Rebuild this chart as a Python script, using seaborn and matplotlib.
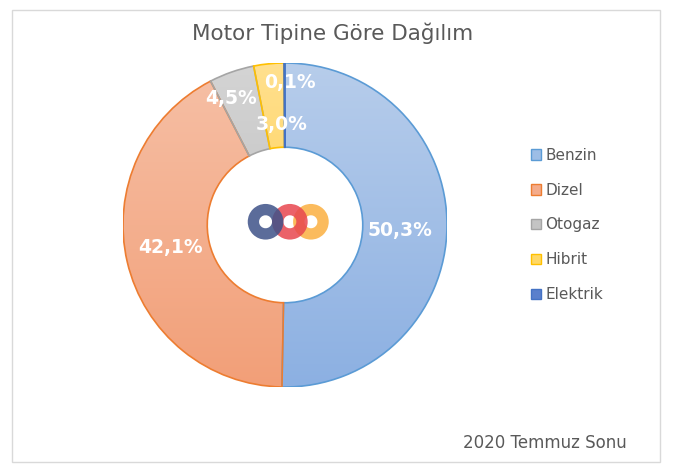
import matplotlib.pyplot as plt
import matplotlib.patches as mpatches
import numpy as np
import seaborn as sns

# data
categories = ["Benzin", "Dizel", "Otogaz", "Hibrit", "Elektrik"]
shares = [50.3, 42.1, 4.5, 3.0, 0.1]
labels = ["50,3%", "42,1%", "4,5%", "3,0%", "0,1%"]

light_colors = ["#b7cdeb", "#f6c0a6", "#d4d4d4", "#ffe08f", "#6f8fd0"]
dark_colors = ["#8cb0e2", "#f29f78", "#b8b8b8", "#ffc935", "#4472c4"]
edge_colors = ["#5b9bd5", "#ed7d31", "#a5a5a5", "#ffc000", "#4472c4"]
legend_colors = ["#9dbde6", "#f4ab8a", "#c4c4c4", "#ffd866", "#5a7fcc"]

sns.set_theme(style="white")
plt.rcParams["font.family"] = ["DejaVu Sans"]

W, H = 674, 472
fig = plt.figure(figsize=(W / 100, H / 100), dpi=100)

# chart border
fig.patches.append(mpatches.Rectangle((12 / W, 10 / H), 648 / W, 452 / H,
                                      transform=fig.transFigure, fill=False,
                                      edgecolor="#d9d9d9", linewidth=1))

cx, cy, r = 285, 225, 162
ax = fig.add_axes([(cx - r) / W, (H - cy - r) / H, 2 * r / W, 2 * r / H])

wedges, _ = ax.pie(shares, startangle=90, counterclock=False,
                   colors=light_colors,
                   wedgeprops=dict(width=0.52, edgecolor="white", linewidth=0.0))

# vertical gradient fill per slice
grad = np.linspace(0, 1, 256).reshape(-1, 1)
for w, lc, dc, ec in zip(wedges, light_colors, dark_colors, edge_colors):
    cmap = sns.blend_palette([dc, lc], as_cmap=True)
    im = ax.imshow(grad, extent=(-1, 1, -1, 1), origin="lower", cmap=cmap,
                   aspect="auto", zorder=1)
    im.set_clip_path(w)
    w.set_zorder(0)
    outline = mpatches.Wedge(w.center, w.r, w.theta1, w.theta2, width=w.width,
                             fill=False, edgecolor=ec, linewidth=1.2, zorder=2)
    ax.add_patch(outline)

# percentage labels
label_r = [0.71, 0.72, 0.85, 0.62, 0.88]
offsets = [-2, -2, 4, -4, -2]
for w, lab, lr, off in zip(wedges, labels, label_r, offsets):
    ang = np.deg2rad((w.theta1 + w.theta2) / 2 + off)
    ax.text(lr * np.cos(ang), lr * np.sin(ang), lab, ha="center", va="center",
            color="white", fontsize=13.5, fontweight="bold", zorder=5)

# logo in the hole
logo = [(-0.12, "#3e5289", 6), (0.03, "#e8474f", 5), (0.16, "#fbb040", 4)]
for dx, col, z in logo:
    ax.add_patch(mpatches.Wedge((dx, 0.02), 0.11, 0, 360, width=0.07,
                                facecolor=col, edgecolor="none", alpha=0.85,
                                zorder=z))

ax.set_xlim(-1.0, 1.0)
ax.set_ylim(-1.0, 1.0)
ax.set_aspect("equal")
ax.axis("off")

fig.text(333 / W, 1 - 33 / H, "Motor Tipine Göre Dağılım", ha="center",
         va="center", fontsize=15.5, color="#595959")

handles = [mpatches.Patch(facecolor=fc, edgecolor=ec, linewidth=1)
           for fc, ec in zip(legend_colors, edge_colors)]
fig.legend(handles, categories, loc="center left",
           bbox_to_anchor=(517 / W, 1 - 225 / H), frameon=False,
           fontsize=11, labelcolor="#595959", handlelength=0.7,
           handleheight=0.7, handletextpad=0.25, labelspacing=1.3)

fig.text(627 / W, 1 - 443 / H, "2020 Temmuz Sonu", ha="right", va="center",
         fontsize=12, color="#595959")

fig.savefig("out.png", dpi=100)
